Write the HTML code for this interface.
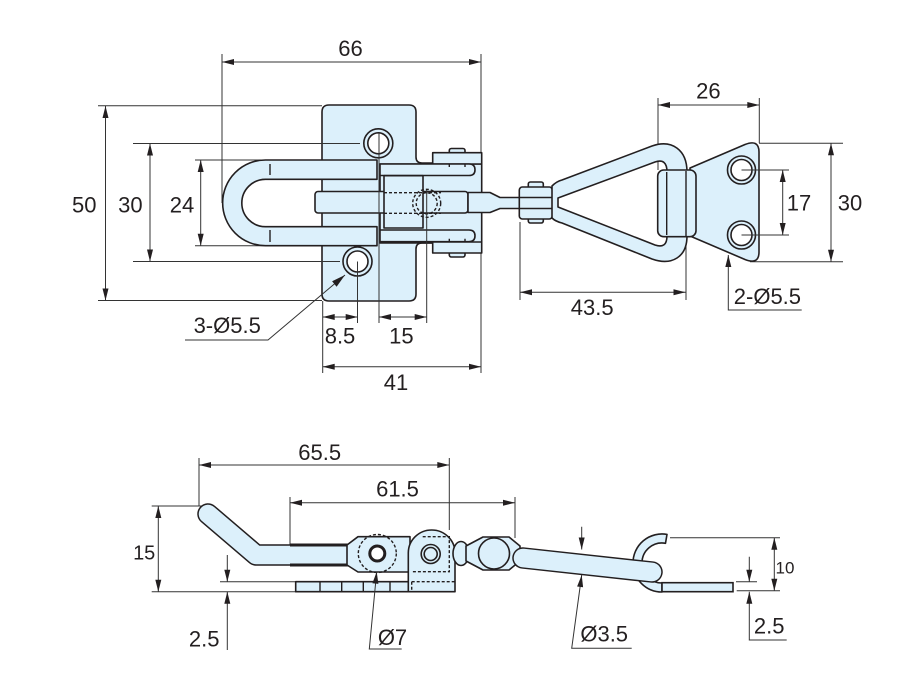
<!DOCTYPE html>
<html><head><meta charset="utf-8"><style>
html,body{margin:0;padding:0;background:#fff;}
svg{display:block;}
text{font-family:"Liberation Sans",sans-serif;fill:#231f20;}
</style></head><body>
<svg width="900" height="692" viewBox="0 0 900 692" xmlns="http://www.w3.org/2000/svg">
<rect width="900" height="692" fill="#fff"/>
<!-- dimension / extension lines under shapes -->
<g stroke="#333" stroke-width="1" fill="none">
<path d="M222,54 V203 M481,54 V152.7 M222,62 H481"/>
<path d="M98,105.7 H322 M98,300.5 H322 M105.5,106 V300.5"/>
<path d="M150,143.5 V261.5"/>
<path d="M195,160 H266 M195,245.7 H266 M200.7,160 V245.7"/>
<path d="M322.7,301 V373 M481,253 V373 M322.7,317 H357.7 M379,317 H426.7 M322.7,366.7 H481"/>
<path d="M658,98 V170 M759.3,98 V143 M658,105 H759.3"/>
<path d="M759,143.3 H843 M750,261.7 H843 M831,143.3 V261.7"/>
<path d="M782.7,170 V235"/>
<path d="M520,222 V300 M686,237 V300 M520,292.3 H685.5"/>
<path d="M728.3,255 V310 H801.7"/>
<path d="M199,458 V506 M449.3,458 V530 M199,465 H449.3"/>
<path d="M290,497 V545 M515,497 V538 M290,502.7 H515"/>
<path d="M151.7,506 H205 M151.7,591.7 H296 M158.3,506 V591.7"/>
<path d="M220,581.7 H296 M227.3,555 V581.7 M227.3,591.7 V650"/>
<path d="M581.7,526.7 V549.5 M581.7,575 L571.7,648.3 H631.7"/>
<path d="M670,537.7 H780 M736.7,590.7 H780 M774.3,537.7 V590.7"/>
<path d="M736,581.7 H757 M749.3,556.7 V581.7 M749.3,591.7 V640 H786.7"/>
</g>

<!-- TOP VIEW shapes -->
<g fill="#dcf0fb" stroke="#231f20" stroke-width="1.6" stroke-linejoin="round">
<path d="M329,105 H409 Q416,105 416,112 V157 Q416,163 422,163 H434 V243 H422 Q416,243 416,249 V294 Q416,301 409,301 H329 Q322,301 322,294 V112 Q322,105 329,105 Z"/>
<circle cx="378.3" cy="143.3" r="14.5"/>
<circle cx="378.3" cy="143.3" r="10.5" fill="#fff"/>
<circle cx="357.5" cy="261.5" r="14.5"/>
<circle cx="357.5" cy="261.5" r="10.5" fill="#fff"/>
<rect x="449.3" y="148.5" width="15.7" height="6" rx="2"/>
<rect x="449.3" y="251" width="15.7" height="6" rx="2"/>
<rect x="380" y="164" width="101.7" height="79"/>
<rect x="432.7" y="152.7" width="49" height="11.3"/>
<rect x="432.7" y="242" width="49" height="11"/>
<path d="M380,164 H469 Q475,164 475,169.7 Q475,175.5 469,175.5 H380 Z"/>
<path d="M380,230 H469 Q475,230 475,235.8 Q475,241.7 469,241.7 H380 Z"/>
<path d="M377,160 H265.5 A42.85,42.85 0 0 0 265.5,245.7 H377 V226.7 H265.5 A23.7,23.7 0 0 1 265.5,179.3 H377 Z"/>
<rect x="315" y="191.5" width="153" height="21.5" rx="3"/>
<rect x="384" y="175.7" width="39" height="52.3"/>
<path d="M468,192.5 H490 L500,197.5 H520 V208.5 H500 L490,212.5 H468 Z"/>
<rect x="528.3" y="182" width="15" height="8" rx="2"/>
<rect x="528.3" y="215" width="15" height="8" rx="2"/>
<rect x="519.3" y="187" width="33" height="32" rx="3"/>
<path d="M690,168 L745,144.5 Q759,139 759,152 V252 Q759,265 745,259.5 L690,236 Z"/>
<circle cx="741.5" cy="170" r="14"/>
<circle cx="741.5" cy="170" r="10.5" fill="#fff"/>
<circle cx="741.5" cy="235" r="14"/>
<circle cx="741.5" cy="235" r="10.5" fill="#fff"/>
<path fill-rule="evenodd" d="M552,186 C555,183 558,181 562,180 L652,146 C672,139 687,150 687,172 V236 C687,257 672,266 652,259 L562,223 C558,222 555,221 552,218 Z M558,198 L655,162 Q667,158 667,172 V236 Q667,249 655,245 L558,207 Z"/>
<rect x="657.7" y="170" width="38.3" height="66.7" rx="6"/>
</g>
<g stroke="#231f20" stroke-width="1.4" fill="none">
<path d="M270,164 V175 M270,230 V242"/>
<path d="M519.3,197.5 H552.3 M519.3,208.5 H552.3"/>
<path d="M666.7,172 V235 M686,171 V236"/>
<path d="M449.3,164 V167 M465,164 V167 M449.3,241.7 V238.7 M465,241.7 V238.7"/>
</g>
<g stroke="#231f20" stroke-width="1.4" fill="none" stroke-dasharray="3,2">
<path d="M384,192.7 H441 M384,213.3 H441"/>
<circle cx="426.7" cy="203.3" r="14"/>
<circle cx="426.7" cy="203.3" r="10.5"/>
</g>

<!-- SIDE VIEW shapes -->
<g fill="#dcf0fb" stroke="#231f20" stroke-width="1.6" stroke-linejoin="round">
<rect x="295.7" y="581.7" width="112.6" height="10"/>
</g>
<g stroke="#231f20" stroke-width="1.4">
<path d="M320,581.7 V591.7 M341.7,581.7 V591.7 M363.3,581.7 V591.7 M390,581.7 V591.7"/>
</g>
<path d="M208,514 L256,555 H356" fill="none" stroke="#231f20" stroke-width="21.5" stroke-linecap="round" stroke-linejoin="round"/>
<path d="M208,514 L256,555 H358" fill="none" stroke="#dcf0fb" stroke-width="18.5" stroke-linecap="round" stroke-linejoin="round"/>
<rect x="290" y="543.5" width="66" height="3" fill="#231f20"/>
<rect x="290" y="563.5" width="66" height="3" fill="#231f20"/>
<g fill="#dcf0fb" stroke="#231f20" stroke-width="1.6" stroke-linejoin="round">
<path d="M347,545 L358,536.7 H410 V572 H358 L347,565 Z"/>
<circle cx="377.3" cy="553.5" r="7.5" fill="#fff" stroke-width="3"/>
<path d="M408.3,591.7 V553 A23.35,23 0 0 1 455,553 V591.7 Z"/>
<circle cx="430.7" cy="554" r="9.5"/>
<circle cx="430.7" cy="554" r="6.5"/>
<ellipse cx="461" cy="553.5" rx="8" ry="12"/>
<path d="M466,546 L483,537 H509 L520,546 V561 L509,570 H483 L466,561 Z"/>
<circle cx="494" cy="553.5" r="15.5"/>
<path d="M662,592 A29,29 0 0 1 633,563 A29,29 0 0 1 667,534.4 L665.5,543.3 A20,20 0 0 0 642,563 A20,20 0 0 0 662,583 Z"/>
</g>
<g stroke="#231f20" stroke-width="1.4" fill="none" stroke-dasharray="3,2">
<circle cx="377.3" cy="553.5" r="19"/>
<path d="M422.7,536.7 H449.3 V571.7 H411.7"/>
<path d="M411.7,581.7 H455 M411.7,581.7 V591.7"/>
</g>
<path d="M523,558 L652,572" fill="none" stroke="#231f20" stroke-width="21.5" stroke-linecap="round"/>
<path d="M523,558 L652,572" fill="none" stroke="#dcf0fb" stroke-width="18.5" stroke-linecap="round"/>
<rect x="662" y="582.7" width="71" height="9" fill="#dcf0fb" stroke="#231f20" stroke-width="1.6"/>

<!-- lines drawn over shapes -->
<g stroke="#333" stroke-width="1" fill="none">
<path d="M379,133 V323 M426.7,190 V323 M357.5,261.5 V323"/>
<path d="M133,143.5 H360 M133,261.5 H340"/>
<path d="M185,340 H268 L345,275"/>
<path d="M741.5,170 H789 M741.5,235 H789"/>
<path d="M376.7,571.7 L369.3,649 H401.7"/>
</g>

<!-- arrowheads -->
<g fill="#231f20">
<polygon points="222,62 234,59 234,65"/><polygon points="481,62 469,59 469,65"/>
<polygon points="322.7,317 334.7,314 334.7,320"/><polygon points="357.7,317 345.7,314 345.7,320"/>
<polygon points="379,317 391,314 391,320"/><polygon points="426.7,317 414.7,314 414.7,320"/>
<polygon points="322.7,366.7 334.7,363.7 334.7,369.7"/><polygon points="481,366.7 469,363.7 469,369.7"/>
<polygon points="658,105 670,102 670,108"/><polygon points="759.3,105 747.3,102 747.3,108"/>
<polygon points="520,292.3 532,289.3 532,295.3"/><polygon points="685.5,292.3 673.5,289.3 673.5,295.3"/>
<polygon points="199,465 211,462 211,468"/><polygon points="449.3,465 437.3,462 437.3,468"/>
<polygon points="290,502.7 302,499.7 302,505.7"/><polygon points="515,502.7 503,499.7 503,505.7"/>
<polygon points="105.5,106 102.5,118 108.5,118"/><polygon points="105.5,300.5 102.5,288.5 108.5,288.5"/>
<polygon points="150,143.5 147,155.5 153,155.5"/><polygon points="150,261.5 147,249.5 153,249.5"/>
<polygon points="200.7,160 197.7,172 203.7,172"/><polygon points="200.7,245.7 197.7,233.7 203.7,233.7"/>
<polygon points="831,143.3 828,155.3 834,155.3"/><polygon points="831,261.7 828,249.7 834,249.7"/>
<polygon points="782.7,170 779.7,182 785.7,182"/><polygon points="782.7,235 779.7,223 785.7,223"/>
<polygon points="158.3,506 155.3,518 161.3,518"/><polygon points="158.3,591.7 155.3,579.7 161.3,579.7"/>
<polygon points="774.3,537.7 771.3,549.7 777.3,549.7"/><polygon points="774.3,590.7 771.3,578.7 777.3,578.7"/>
<polygon points="227.3,581.7 224.3,569.7 230.3,569.7"/><polygon points="227.3,591.7 224.3,603.7 230.3,603.7"/>
<polygon points="749.3,581.7 746.3,569.7 752.3,569.7"/><polygon points="749.3,591.7 746.3,603.7 752.3,603.7"/>
<polygon points="581.7,549.5 578.7,537.5 584.7,537.5"/>
<polygon points="581.7,575 583.1,587.3 577.1,586.5"/>
<polygon points="728.3,255 725.3,267 731.3,267"/>
<polygon points="345,275 336.6,286.7 332.1,281.3"/>
<polygon points="376.7,571.7 378.4,583.9 372.4,583.3"/>
</g>

<!-- labels -->
<g font-size="22" text-anchor="middle">
<text x="350.5" y="56">66</text>
<text x="84.2" y="212.7">50</text>
<text x="130.4" y="212.7">30</text>
<text x="182" y="212.7">24</text>
<text x="227.2" y="333">3-Ø5.5</text>
<text x="340" y="343.3">8.5</text>
<text x="401.4" y="343.3">15</text>
<text x="396" y="390">41</text>
<text x="708.4" y="98.3">26</text>
<text x="799" y="210.7">17</text>
<text x="850" y="210.7">30</text>
<text x="592.2" y="315">43.5</text>
<text x="767.4" y="304">2-Ø5.5</text>
<text x="319.7" y="460">65.5</text>
<text x="397.5" y="496.7">61.5</text>
<text x="204.2" y="646.7">2.5</text>
<text x="392.5" y="645">Ø7</text>
<text x="604.2" y="641.7">Ø3.5</text>
<text x="769.2" y="633.3">2.5</text>
</g>
<text x="144.2" y="559.3" font-size="20" text-anchor="middle">15</text>
<text x="785" y="573.3" font-size="17" text-anchor="middle">10</text>
</svg>
</body></html>
